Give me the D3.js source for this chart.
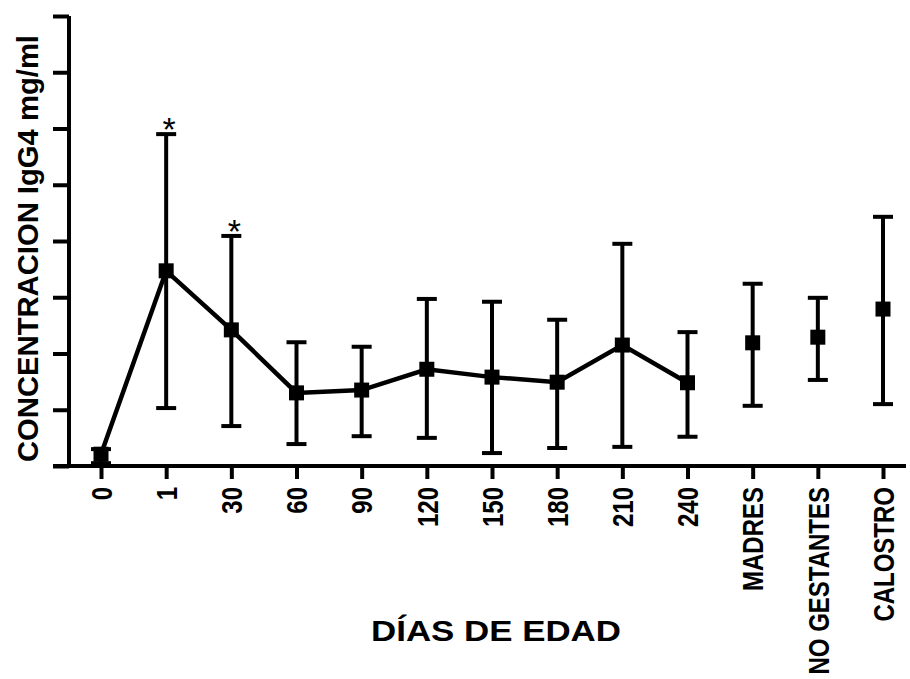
<!DOCTYPE html>
<html>
<head>
<meta charset="utf-8">
<script src="https://cdn.jsdelivr.net/npm/d3@7"></script>
<style>
  html, body { margin: 0; padding: 0; background: #fff; }
  svg { display: block; }
</style>
</head>
<body>
<svg id="chart" width="910" height="679"></svg>
<script>
const categories = ["0","1","30","60","90","120","150","180","210","240","MADRES","NO GESTANTES","CALOSTRO"];
const means = [0.21, 3.47, 2.42, 1.30, 1.35, 1.72, 1.58, 1.49, 2.15, 1.48, 2.19, 2.29, 2.79];
const upper = [0.30, 5.90, 4.09, 2.20, 2.12, 2.97, 2.92, 2.60, 3.95, 2.38, 3.24, 2.99, 4.43];
const lower = [0.05, 1.03, 0.71, 0.39, 0.53, 0.50, 0.23, 0.32, 0.34, 0.52, 1.07, 1.53, 1.10];
const lineCategories = ["0","1","30","60","90","120","150","180","210","240"];
const significant = ["1","30"];
const yTicks = [0,1,2,3,4,5,6,7,8];

const svg = d3.select("#chart");
const x = d3.scalePoint().domain(categories).range([101, 883]);
const y = d3.scaleLinear().domain([0, 8]).range([466, 16]);

const data = categories.map((c, i) => ({c, m: means[i], hi: upper[i], lo: lower[i]}));
const sans = "'Liberation Sans', Arial, Helvetica, sans-serif";

// Y axis
const yAxis = svg.append("g").attr("transform", "translate(69,0)")
  .call(d3.axisLeft(y).tickValues(yTicks).tickSize(16).tickFormat(""));
yAxis.select(".domain").attr("d", `M0,${y(8)}V${y(0)}`).attr("stroke", "#000").attr("stroke-width", 4);
yAxis.selectAll(".tick line").attr("stroke", "#000").attr("stroke-width", 4);

// X axis
const xAxis = svg.append("g").attr("transform", `translate(0,${y(0)})`)
  .call(d3.axisBottom(x).tickSize(13).tickFormat(""));
xAxis.select(".domain").attr("d", "M53,0H906").attr("stroke", "#000").attr("stroke-width", 4);
xAxis.selectAll(".tick line").attr("stroke", "#000").attr("stroke-width", 4);

// tick labels (condensed look)
svg.append("g").selectAll("text").data(categories).join("text")
  .attr("transform", d => `translate(${x(d)},487) rotate(-90) scale(0.8,1)`)
  .attr("text-anchor", "end")
  .attr("dy", "0.36em")
  .attr("font-family", sans)
  .attr("font-weight", "bold")
  .attr("font-size", 30)
  .attr("fill", "#000")
  .text(d => d);

// error bars
const eb = svg.append("g").attr("stroke", "#000").attr("stroke-width", 4).attr("fill", "none");
eb.selectAll("line.v").data(data).join("line").attr("class", "v")
  .attr("x1", d => x(d.c)).attr("x2", d => x(d.c))
  .attr("y1", d => y(d.hi)).attr("y2", d => y(d.lo));
eb.selectAll("line.hi").data(data).join("line").attr("class", "hi")
  .attr("x1", d => x(d.c) - 10).attr("x2", d => x(d.c) + 10)
  .attr("y1", d => y(d.hi)).attr("y2", d => y(d.hi));
eb.selectAll("line.lo").data(data).join("line").attr("class", "lo")
  .attr("x1", d => x(d.c) - 10).attr("x2", d => x(d.c) + 10)
  .attr("y1", d => y(d.lo)).attr("y2", d => y(d.lo));

// line
const lineData = data.filter(d => lineCategories.includes(d.c));
svg.append("path").datum(lineData)
  .attr("d", d3.line().x(d => x(d.c)).y(d => y(d.m)))
  .attr("fill", "none").attr("stroke", "#000").attr("stroke-width", 4.5).attr("stroke-linejoin", "miter");

// markers
svg.append("g").selectAll("rect").data(data).join("rect")
  .attr("x", d => x(d.c) - 7.5).attr("y", d => y(d.m) - 7.5)
  .attr("width", 15).attr("height", 15).attr("fill", "#000");

// asterisks
svg.append("g").selectAll("text").data(data.filter(d => significant.includes(d.c))).join("text")
  .attr("x", d => x(d.c) + 3).attr("y", d => y(d.hi) + 7)
  .attr("text-anchor", "middle")
  .attr("font-family", sans).attr("font-size", 34).attr("fill", "#000")
  .text("*");

// axis titles
const yTitle = svg.append("text")
  .attr("text-anchor", "middle")
  .attr("font-family", sans).attr("font-weight", "bold").attr("font-size", 29)
  .attr("fill", "#000")
  .text("CONCENTRACION IgG4 mg/ml");
const yLen = yTitle.node().getComputedTextLength();
yTitle.attr("transform", `translate(38,${(35+462)/2}) rotate(-90) scale(${427 / yLen},1)`);

const xTitle = svg.append("text")
  .attr("text-anchor", "middle")
  .attr("font-family", sans).attr("font-weight", "bold").attr("font-size", 29)
  .attr("fill", "#000")
  .text("DÍAS DE EDAD");
const xLen = xTitle.node().getComputedTextLength();
xTitle.attr("transform", `translate(496,641) scale(${250 / xLen},1)`);
</script>
</body>
</html>
